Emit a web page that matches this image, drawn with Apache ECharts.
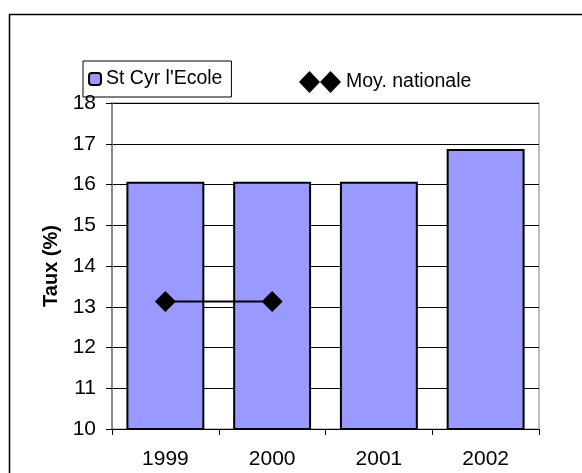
<!DOCTYPE html>
<html>
<head>
<meta charset="utf-8">
<script src="https://cdn.jsdelivr.net/npm/echarts@6/dist/echarts.min.js"></script>
<style>
  html, body { margin: 0; padding: 0; background: #fff; }
  #chart { width: 582px; height: 473px; }
</style>
</head>
<body>
<div id="chart"></div>
<script>
// données
var annees = ['1999', '2000', '2001', '2002'];
var stCyr = [16.07, 16.07, 16.07, 16.87];
var moyNationale = [13.13, 13.13, null, null];

var chart = echarts.init(document.getElementById('chart'));
var police = 'Liberation Sans, Arial, sans-serif';

var option = {
  animation: false,
  backgroundColor: '#fff',
  grid: {
    left: 112, top: 103, right: 43, bottom: 44,
    show: true, borderColor: '#c0c0c0', borderWidth: 2
  },
  graphic: [
    { type: 'rect', left: 7, top: 12, shape: { width: 620, height: 520 },
      style: { fill: 'none', stroke: '#000', lineWidth: 1.5 }, silent: true }
  ],
  legend: [
    {
      data: ["St Cyr l'Ecole"],
      left: 83, top: 61,
      padding: [8, 9, 8, 5],
      borderColor: '#000', borderWidth: 1,
      itemWidth: 12, itemHeight: 12, itemGap: 4,
      textStyle: { fontFamily: police, fontSize: 19.5, color: '#000' }
    },
    {
      data: [{
        name: 'Moy. nationale',
        icon: 'path://M0,11 L10.5,0 L21,11 L10.5,22 Z M21,11 L31.5,0 L42,11 L31.5,22 Z'
      }],
      left: 294, top: 66,
      itemWidth: 42, itemHeight: 23,
      textStyle: { fontFamily: police, fontSize: 19.5, color: '#000' }
    }
  ],
  xAxis: {
    type: 'category',
    data: annees,
    axisLine: { lineStyle: { color: '#000', width: 1 } },
    axisTick: { show: true, length: 6, lineStyle: { color: '#000' } },
    axisLabel: { fontFamily: police, fontSize: 21, color: '#000', margin: 20 }
  },
  yAxis: {
    type: 'value',
    min: 10, max: 18, interval: 1,
    name: 'Taux (%)',
    nameLocation: 'middle',
    nameGap: 51,
    nameTextStyle: { fontFamily: police, fontSize: 20, fontWeight: 'bold', color: '#000' },
    axisLine: { show: true, lineStyle: { color: '#777', width: 1.5 } },
    axisTick: { show: true, length: 6, lineStyle: { color: '#000' } },
    axisLabel: { fontFamily: police, fontSize: 21, color: '#000', margin: 16 },
    splitLine: { lineStyle: { color: '#000', width: 1 } }
  },
  series: [
    {
      name: "St Cyr l'Ecole",
      type: 'bar',
      data: stCyr,
      barWidth: '73%',
      itemStyle: { color: '#9999ff', borderColor: '#000', borderWidth: 2 }
    },
    {
      name: 'Moy. nationale',
      type: 'line',
      data: moyNationale,
      symbol: 'diamond',
      symbolSize: 21,
      lineStyle: { color: '#000', width: 2 },
      itemStyle: { color: '#000' }
    }
  ]
};

chart.setOption(option);
</script>
</body>
</html>
